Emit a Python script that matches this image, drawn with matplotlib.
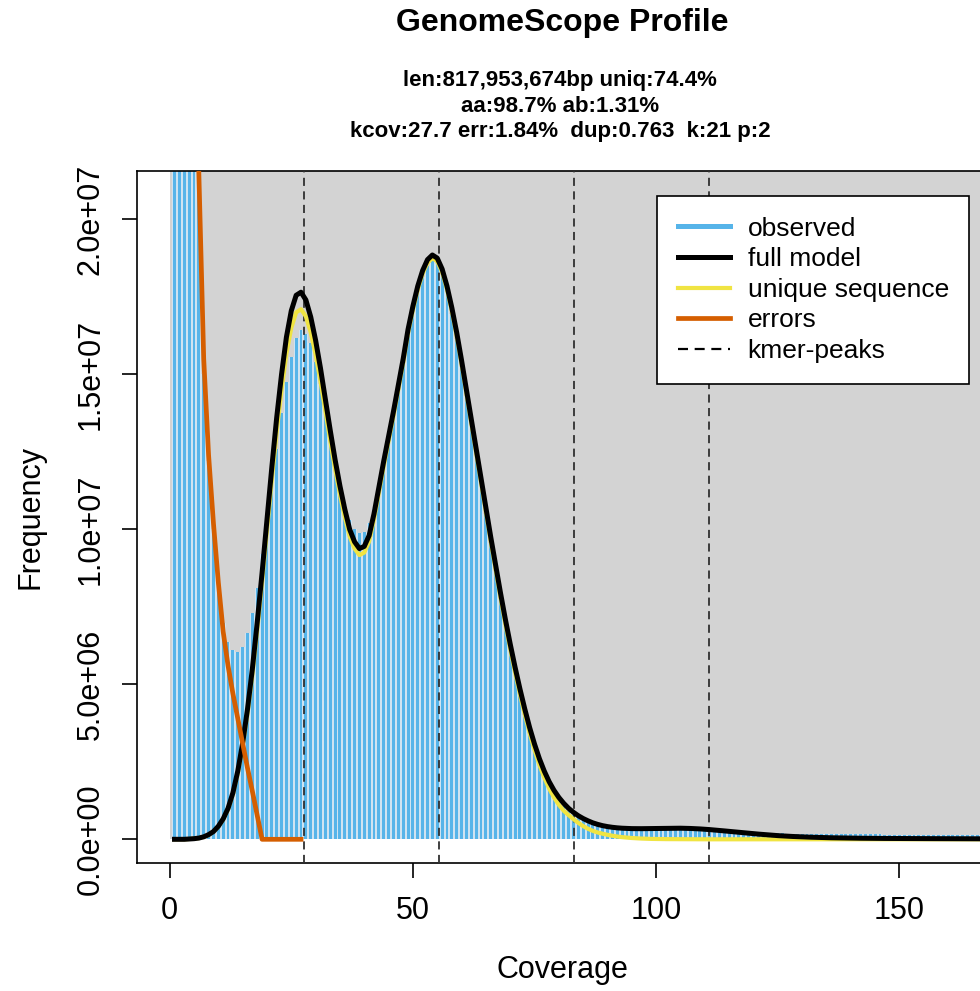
"""GenomeScope profile plot: observed k-mer histogram with the fitted model."""

import matplotlib
matplotlib.use("Agg")
import matplotlib.pyplot as plt
from matplotlib.lines import Line2D
from matplotlib.patches import Rectangle
import numpy as np

plt.rcParams["font.family"] = ["Liberation Sans", "DejaVu Sans"]

# k-mer coverage (integer bins) and the curves
coverage = np.arange(1, 169)

observed = [
    3.0e8, 1.3e8, 7.0e7, 4.5e7, 3.2e7, 2.4e7, 1.5e7, 1.22e7, 1.0e7, 8.2e6,
    6.98e6, 6.36e6, 6.11e6, 6.04e6, 6.2e6, 6.66e6, 7.3e6, 8.1e6, 9.2e6, 1.04e7,
    1.15e7, 1.26e7, 1.375e7, 1.475e7, 1.556e7, 1.617e7, 1.643e7, 1.63e7, 1.6e7, 1.54e7,
    1.47e7, 1.385e7, 1.3e7, 1.22e7, 1.14e7, 1.08e7, 1.03e7, 1.0e7, 9.88e6, 9.9e6,
    1.02e7, 1.07e7, 1.13e7, 1.205e7, 1.285e7, 1.365e7, 1.45e7, 1.535e7, 1.625e7, 1.7e7,
    1.765e7, 1.815e7, 1.85e7, 1.865e7, 1.855e7, 1.82e7, 1.765e7, 1.695e7, 1.615e7, 1.525e7,
    1.43e7, 1.335e7, 1.24e7, 1.145e7, 1.05e7, 9.55e6, 8.65e6, 7.75e6, 6.9e6, 6.1e6,
    5.35e6, 4.65e6, 4.0e6, 3.42e6, 2.9e6, 2.45e6, 2.07e6, 1.75e6, 1.48e6, 1.25e6,
    1.07e6, 9.2e5, 8.0e5, 7.0e5, 6.1e5, 5.4e5, 4.8e5, 4.4e5, 4.0e5, 3.7e5,
    3.5e5, 3.35e5, 3.25e5, 3.2e5, 3.15e5, 3.15e5, 3.15e5, 3.15e5, 3.2e5, 3.2e5,
    3.2e5, 3.2e5, 3.2e5, 3.2e5, 3.15e5, 3.1e5, 3.05e5, 3.0e5, 2.95e5, 2.9e5,
    2.8e5, 2.7e5, 2.6e5, 2.5e5, 2.45e5, 2.4e5, 2.3e5, 2.25e5, 2.2e5, 2.15e5,
    2.1e5, 2.05e5, 2.0e5, 1.95e5, 1.9e5, 1.9e5, 1.85e5, 1.85e5, 1.8e5, 1.8e5,
    1.75e5, 1.75e5, 1.7e5, 1.7e5, 1.7e5, 1.65e5, 1.65e5, 1.65e5, 1.6e5, 1.6e5,
    1.6e5, 1.6e5, 1.58e5, 1.58e5, 1.56e5, 1.56e5, 1.55e5, 1.55e5, 1.54e5, 1.54e5,
    1.53e5, 1.53e5, 1.52e5, 1.52e5, 1.51e5, 1.5e5, 1.5e5, 1.49e5, 1.49e5, 1.48e5,
    1.48e5, 1.47e5, 1.47e5, 1.46e5, 1.46e5, 1.45e5, 1.45e5, 1.45e5,
]

full_model = [
    0.0, 0.0, 0.0, 1e4, 2e4, 4e4, 8e4, 1.5e5, 2.5e5, 4.2e5,
    6.6e5, 1.0e6, 1.5e6, 2.2e6, 3.1e6, 4.2e6, 5.5e6, 7.0e6, 8.6e6, 1.03e7,
    1.2e7, 1.36e7, 1.5e7, 1.62e7, 1.705e7, 1.755e7, 1.765e7, 1.74e7, 1.685e7, 1.61e7,
    1.52e7, 1.42e7, 1.32e7, 1.225e7, 1.14e7, 1.065e7, 1.0e7, 9.6e6, 9.38e6, 9.45e6,
    9.8e6, 1.05e7, 1.135e7, 1.22e7, 1.3e7, 1.38e7, 1.465e7, 1.55e7, 1.645e7, 1.72e7,
    1.785e7, 1.835e7, 1.87e7, 1.885e7, 1.875e7, 1.84e7, 1.785e7, 1.715e7, 1.635e7, 1.545e7,
    1.45e7, 1.355e7, 1.26e7, 1.165e7, 1.07e7, 9.75e6, 8.85e6, 7.95e6, 7.1e6, 6.3e6,
    5.55e6, 4.85e6, 4.2e6, 3.6e6, 3.07e6, 2.6e6, 2.2e6, 1.86e6, 1.58e6, 1.35e6,
    1.16e6, 1.0e6, 8.7e5, 7.6e5, 6.7e5, 5.95e5, 5.3e5, 4.8e5, 4.4e5, 4.1e5,
    3.87e5, 3.7e5, 3.58e5, 3.5e5, 3.45e5, 3.43e5, 3.43e5, 3.45e5, 3.48e5, 3.5e5,
    3.53e5, 3.55e5, 3.57e5, 3.58e5, 3.58e5, 3.55e5, 3.5e5, 3.44e5, 3.35e5, 3.25e5,
    3.13e5, 3.0e5, 2.86e5, 2.71e5, 2.56e5, 2.41e5, 2.26e5, 2.11e5, 1.96e5, 1.82e5,
    1.68e5, 1.55e5, 1.42e5, 1.3e5, 1.19e5, 1.09e5, 1.0e5, 9.2e4, 8.5e4, 7.8e4,
    7.2e4, 6.7e4, 6.2e4, 5.8e4, 5.4e4, 5.0e4, 4.7e4, 4.4e4, 4.1e4, 3.9e4,
    3.7e4, 3.5e4, 3.3e4, 3.2e4, 3.0e4, 2.9e4, 2.8e4, 2.7e4, 2.6e4, 2.5e4,
    2.45e4, 2.4e4, 2.35e4, 2.3e4, 2.25e4, 2.2e4, 2.15e4, 2.1e4, 2.05e4, 2.0e4,
    1.95e4, 1.9e4, 1.85e4, 1.8e4, 1.75e4, 1.7e4, 1.65e4, 1.6e4,
]

unique_sequence = [
    0.0, 0.0, 0.0, 1e4, 2e4, 4e4, 8e4, 1.4e5, 2.5e5, 4.1e5,
    6.4e5, 9.7e5, 1.45e6, 2.13e6, 3.0e6, 4.05e6, 5.3e6, 6.75e6, 8.3e6, 9.95e6,
    1.16e7, 1.315e7, 1.45e7, 1.567e7, 1.65e7, 1.7e7, 1.71e7, 1.687e7, 1.635e7, 1.564e7,
    1.478e7, 1.382e7, 1.286e7, 1.195e7, 1.113e7, 1.04e7, 9.77e6, 9.38e6, 9.17e6, 9.25e6,
    9.61e6, 1.032e7, 1.118e7, 1.204e7, 1.285e7, 1.366e7, 1.452e7, 1.5375e7, 1.633e7, 1.7085e7,
    1.774e7, 1.825e7, 1.86e7, 1.875e7, 1.865e7, 1.83e7, 1.775e7, 1.7045e7, 1.624e7, 1.534e7,
    1.4385e7, 1.343e7, 1.2475e7, 1.152e7, 1.0565e7, 9.61e6, 8.705e6, 7.8e6, 6.945e6, 6.14e6,
    5.385e6, 4.68e6, 4.025e6, 3.42e6, 2.88e6, 2.4e6, 1.99e6, 1.64e6, 1.35e6, 1.11e6,
    9.2e5, 7.8e5, 6.5e5, 5.3e5, 4.25e5, 3.4e5, 2.7e5, 2.2e5, 1.8e5, 1.45e5,
    1.15e5, 9.0e4, 7.0e4, 5.5e4, 4.2e4, 3.2e4, 2.4e4, 1.8e4, 1.3e4, 1e4,
    8e3, 6e3, 5e3, 4e3, 3e3, 2e3, 2e3, 1e3, 1e3, 1e3,
] + [0.0] * 58

# error k-mers are only drawn up to the first peak
error_coverage = np.arange(1, 28)
errors = [
    3.0e8, 1.3e8, 7.0e7, 4.5e7, 3.0e7, 2.15e7, 1.55e7, 1.24e7, 1.02e7, 8.3e6,
    6.7e6, 5.6e6, 4.7e6, 3.9e6, 3.1e6, 2.3e6, 1.55e6, 7.7e5, 0.0, 0.0,
    0.0, 0.0, 0.0, 0.0, 0.0, 0.0, 0.0,
]

kcov = 27.7
peak_multiples = [1, 2, 3, 4]

title = "GenomeScope Profile"
subtitle = [
    "len:817,953,674bp uniq:74.4%",
    "aa:98.7% ab:1.31%",
    "kcov:27.7 err:1.84%  dup:0.763  k:21 p:2",
]
y_ticks = [0, 5e6, 1e7, 1.5e7, 2e7]
y_tick_labels = ["0.0e+00", "5.0e+06", "1.0e+07", "1.5e+07", "2.0e+07"]
x_ticks = [0, 50, 100, 150]

COLOR_BG = "#D3D3D3"
COLOR_HIST = "#56B4E9"
COLOR_GAP = "#CFE3F1"
COLOR_MODEL = "black"
COLOR_UNIQUE = "#F0E442"
COLOR_ERRORS = "#D55E00"

fig = plt.figure(figsize=(9.8, 9.91), dpi=100)
W, H = 980.0, 991.0
left_px, right_px, top_px, bottom_px = 137.3, 987.0, 171.0, 863.3
ax = fig.add_axes([left_px / W, 1 - bottom_px / H,
                   (right_px - left_px) / W, (bottom_px - top_px) / H])
ax.set_xlim(-6.65, 168.0)
ax.set_ylim(-7.74e5, 2.156e7)

ax.add_patch(Rectangle((0, 0), 400, 1e9, facecolor=COLOR_BG, edgecolor="none", zorder=0))
ax.bar(coverage, observed, width=1.0, color=COLOR_GAP, linewidth=0, zorder=1)
ax.bar(coverage, observed, width=0.6, color=COLOR_HIST, linewidth=0, zorder=2)

for m in peak_multiples:
    ax.axvline(kcov * m, color="#303030", linestyle=(0, (4.5, 3.0)), linewidth=1.3, zorder=3)

ax.plot(coverage, unique_sequence, color=COLOR_UNIQUE, linewidth=3.0,
        solid_joinstyle="round", zorder=4)
ax.plot(coverage, full_model, color=COLOR_MODEL, linewidth=3.6,
        solid_joinstyle="round", zorder=5)
ax.plot(error_coverage, errors, color=COLOR_ERRORS, linewidth=3.4,
        solid_joinstyle="round", zorder=6)

ax.set_xticks(x_ticks)
ax.set_xticklabels([str(t) for t in x_ticks])
ax.set_yticks(y_ticks)
ax.set_yticklabels(y_tick_labels, rotation=90, va="center")
ax.tick_params(axis="both", direction="out", length=10.8, width=1.2, labelsize=22)
ax.tick_params(axis="x", pad=13)
ax.tick_params(axis="y", pad=12)
for side in ["left", "bottom", "top", "right"]:
    ax.spines[side].set_linewidth(1.2)

handles = [
    Line2D([], [], color=COLOR_HIST, linewidth=3.6),
    Line2D([], [], color=COLOR_MODEL, linewidth=3.6),
    Line2D([], [], color=COLOR_UNIQUE, linewidth=3.0),
    Line2D([], [], color=COLOR_ERRORS, linewidth=3.4),
    Line2D([], [], color="black", linestyle=(0, (4.5, 3.0)), linewidth=1.6),
]
labels = ["observed", "full model", "unique sequence", "errors", "kmer-peaks"]
leg = ax.legend(handles, labels, loc="upper left",
                bbox_to_anchor=((657 - left_px) / (right_px - left_px),
                                (bottom_px - 196) / (bottom_px - top_px)),
                fontsize=19, frameon=True, fancybox=False, framealpha=1,
                edgecolor="black", borderpad=0.78, labelspacing=0.25,
                handlelength=2.0, handletextpad=0.65, borderaxespad=0)
leg.get_frame().set_linewidth(1.2)
leg.set_zorder(10)

fig.text(562 / W, 1 - 31 / H, title, ha="center", va="baseline",
         fontsize=23, fontweight="bold")
for i, line in enumerate(subtitle):
    fig.text(560 / W, 1 - (86 + 25.5 * i) / H, line, ha="center", va="baseline",
             fontsize=16, fontweight="bold")

fig.text(562 / W, 1 - 970 / H, "Coverage", ha="center", va="center", fontsize=22)
fig.text(30 / W, 1 - 517 / H, "Frequency", ha="center", va="center",
         rotation=90, fontsize=22)

fig.savefig("out.png", dpi=100)
